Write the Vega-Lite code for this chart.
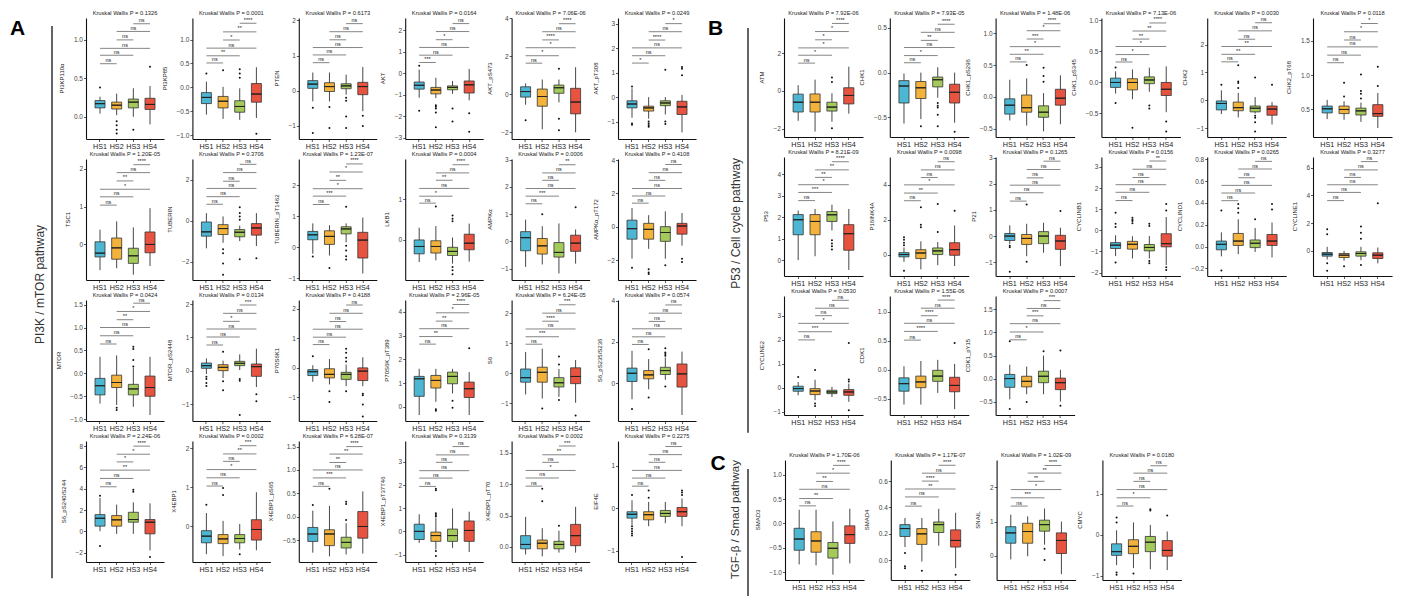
{
"$schema": "https://vega.github.io/schema/vega-lite/v6.json",
"padding": {"left": 5, "top": 10, "right": 5, "bottom": 0},
"background": "white",
"datasets": {
"d": [
{"v":"PI3KP110α","g":"HS1","lo":0.04,"q1":0.115,"md":0.17,"q3":0.21,"hi":0.26,"o":[0.38]},
{"v":"PI3KP110α","g":"HS2","lo":0.02,"q1":0.1,"md":0.15,"q3":0.19,"hi":0.3,"o":[-0.06,-0.11,-0.17,-0.22]},
{"v":"PI3KP110α","g":"HS3","lo":0.0,"q1":0.115,"md":0.19,"q3":0.23,"hi":0.37,"o":[-0.17]},
{"v":"PI3KP110α","g":"HS4","lo":-0.1,"q1":0.095,"md":0.16,"q3":0.24,"hi":0.4,"o":[0.65]},
{"v":"PI3KP85","g":"HS1","lo":-0.57,"q1":-0.34,"md":-0.21,"q3":-0.11,"hi":0.12,"o":[0.29]},
{"v":"PI3KP85","g":"HS2","lo":-0.66,"q1":-0.43,"md":-0.29,"q3":-0.19,"hi":0.01,"o":[0.36]},
{"v":"PI3KP85","g":"HS3","lo":-0.68,"q1":-0.52,"md":-0.4,"q3":-0.28,"hi":-0.02,"o":[0.38,0.29,0.2]},
{"v":"PI3KP85","g":"HS4","lo":-0.64,"q1":-0.31,"md":-0.14,"q3":0.08,"hi":0.42,"o":[-0.97]},
{"v":"PTEN","g":"HS1","lo":-0.3,"q1":0.07,"md":0.19,"q3":0.29,"hi":0.52,"o":[-0.48,-1.2]},
{"v":"PTEN","g":"HS2","lo":-0.3,"q1":-0.02,"md":0.12,"q3":0.23,"hi":0.52,"o":[-0.46,-1.06]},
{"v":"PTEN","g":"HS3","lo":-0.11,"q1":0.06,"md":0.14,"q3":0.2,"hi":0.46,"o":[-0.2,-0.28,-0.73,-1.06]},
{"v":"PTEN","g":"HS4","lo":-0.58,"q1":-0.11,"md":0.12,"q3":0.24,"hi":0.68,"o":[-0.71,-1.0]},
{"v":"AKT","g":"HS1","lo":-1.14,"q1":-0.74,"md":-0.56,"q3":-0.41,"hi":0.17,"o":[0.35,-1.74]},
{"v":"AKT","g":"HS2","lo":-1.16,"q1":-0.96,"md":-0.78,"q3":-0.66,"hi":-0.21,"o":[-1.49,-1.56,-1.64,-1.83,-2.51]},
{"v":"AKT","g":"HS3","lo":-0.96,"q1":-0.77,"md":-0.66,"q3":-0.59,"hi":-0.36,"o":[-1.64,-2.24]},
{"v":"AKT","g":"HS4","lo":-1.26,"q1":-0.92,"md":-0.54,"q3":-0.36,"hi":0.2,"o":[-1.86,-2.72]},
{"v":"AKT_pS473","g":"HS1","lo":-0.55,"q1":-0.15,"md":0.14,"q3":0.39,"hi":0.57,"o":[-1.36]},
{"v":"AKT_pS473","g":"HS2","lo":-1.84,"q1":-0.63,"md":-0.12,"q3":0.27,"hi":0.77},
{"v":"AKT_pS473","g":"HS3","lo":-0.43,"q1":0.05,"md":0.34,"q3":0.48,"hi":0.77,"o":[1.34,-1.29,-1.89]},
{"v":"AKT_pS473","g":"HS4","lo":-2.0,"q1":-1.03,"md":-0.41,"q3":0.31,"hi":1.42},
{"v":"AKT_pT308","g":"HS1","lo":-0.84,"q1":-0.44,"md":-0.28,"q3":-0.15,"hi":0.36,"o":[0.43,-1.08,-1.13]},
{"v":"AKT_pT308","g":"HS2","lo":-0.88,"q1":-0.57,"md":-0.44,"q3":-0.37,"hi":0.0,"o":[-1.0,-1.08,-1.15,-1.21]},
{"v":"AKT_pT308","g":"HS3","lo":-0.71,"q1":-0.35,"md":-0.24,"q3":-0.15,"hi":0.0,"o":[1.12,-1.0,-1.1]},
{"v":"AKT_pT308","g":"HS4","lo":-1.44,"q1":-0.71,"md":-0.4,"q3":-0.17,"hi":0.09,"o":[1.23,1.16,0.89]},
{"v":"TSC1","g":"HS1","lo":-0.68,"q1":-0.33,"md":-0.23,"q3":0.07,"hi":0.39},
{"v":"TSC1","g":"HS2","lo":-0.63,"q1":-0.39,"md":-0.09,"q3":0.17,"hi":0.61},
{"v":"TSC1","g":"HS3","lo":-0.8,"q1":-0.5,"md":-0.3,"q3":-0.1,"hi":0.45},
{"v":"TSC1","g":"HS4","lo":-0.57,"q1":-0.22,"md":0.0,"q3":0.33,"hi":0.96},
{"v":"TUBERIN","g":"HS1","lo":-1.34,"q1":-0.75,"md":-0.54,"q3":-0.06,"hi":0.37},
{"v":"TUBERIN","g":"HS2","lo":-1.07,"q1":-0.67,"md":-0.38,"q3":-0.19,"hi":0.21,"o":[-1.39,-1.58,-2.08,-2.62]},
{"v":"TUBERIN","g":"HS3","lo":-0.99,"q1":-0.78,"md":-0.56,"q3":-0.43,"hi":-0.24,"o":[0.66,0.37,0.21,0.05,-1.87]},
{"v":"TUBERIN","g":"HS4","lo":-1.23,"q1":-0.7,"md":-0.35,"q3":-0.14,"hi":0.37,"o":[-1.82]},
{"v":"TUBERIN_pT1462","g":"HS1","lo":-0.21,"q1":0.24,"md":0.4,"q3":0.51,"hi":0.77,"o":[-0.3]},
{"v":"TUBERIN_pT1462","g":"HS2","lo":-0.27,"q1":0.09,"md":0.35,"q3":0.53,"hi":0.71,"o":[-0.67]},
{"v":"TUBERIN_pT1462","g":"HS3","lo":0.16,"q1":0.43,"md":0.59,"q3":0.66,"hi":0.77,"o":[1.31,0.05,-0.11,-0.29,-0.4]},
{"v":"TUBERIN_pT1462","g":"HS4","lo":-0.85,"q1":-0.35,"md":0.23,"q3":0.48,"hi":0.96},
{"v":"LKB1","g":"HS1","lo":-0.54,"q1":-0.34,"md":-0.16,"q3":0.0,"hi":0.3},
{"v":"LKB1","g":"HS2","lo":-0.5,"q1":-0.32,"md":-0.16,"q3":-0.02,"hi":0.34,"o":[0.82]},
{"v":"LKB1","g":"HS3","lo":-0.58,"q1":-0.38,"md":-0.28,"q3":-0.18,"hi":0.06,"o":[0.6,0.52,0.46,-0.66,-0.74,-0.84]},
{"v":"LKB1","g":"HS4","lo":-0.53,"q1":-0.24,"md":-0.08,"q3":0.14,"hi":0.4},
{"v":"AMPKα","g":"HS1","lo":-0.93,"q1":-0.34,"md":0.14,"q3":0.36,"hi":0.8},
{"v":"AMPKα","g":"HS2","lo":-0.84,"q1":-0.46,"md":-0.16,"q3":0.11,"hi":0.56,"o":[1.0]},
{"v":"AMPKα","g":"HS3","lo":-1.17,"q1":-0.57,"md":-0.4,"q3":-0.04,"hi":0.66},
{"v":"AMPKα","g":"HS4","lo":-0.81,"q1":-0.36,"md":-0.06,"q3":0.23,"hi":0.44,"o":[1.25]},
{"v":"AMPKα_pT172","g":"HS1","lo":-1.92,"q1":-0.75,"md":-0.12,"q3":0.39,"hi":1.12,"o":[-2.47]},
{"v":"AMPKα_pT172","g":"HS2","lo":-1.33,"q1":-0.75,"md":-0.16,"q3":0.2,"hi":0.69,"o":[-2.55,-2.75,-2.84]},
{"v":"AMPKα_pT172","g":"HS3","lo":-1.92,"q1":-0.88,"md":-0.35,"q3":0.0,"hi":0.92,"o":[-2.31]},
{"v":"AMPKα_pT172","g":"HS4","lo":-1.14,"q1":-0.45,"md":0.04,"q3":0.2,"hi":0.82,"o":[-1.92,-2.12]},
{"v":"MTOR","g":"HS1","lo":-0.66,"q1":-0.47,"md":-0.27,"q3":-0.11,"hi":0.36},
{"v":"MTOR","g":"HS2","lo":-0.69,"q1":-0.31,"md":-0.2,"q3":-0.04,"hi":0.39,"o":[-0.75,-0.8]},
{"v":"MTOR","g":"HS3","lo":-0.73,"q1":-0.47,"md":-0.34,"q3":-0.24,"hi":0.12,"o":[0.58,0.53,0.29,0.15]},
{"v":"MTOR","g":"HS4","lo":-0.91,"q1":-0.5,"md":-0.31,"q3":-0.06,"hi":0.36},
{"v":"MTOR_pS2448","g":"HS1","lo":-0.1,"q1":0.07,"md":0.15,"q3":0.23,"hi":0.37,"o":[-0.18,-0.25,-0.37,-0.46]},
{"v":"MTOR_pS2448","g":"HS2","lo":-0.22,"q1":0.0,"md":0.1,"q3":0.18,"hi":0.3,"o":[0.57,-0.32,-0.59]},
{"v":"MTOR_pS2448","g":"HS3","lo":0.02,"q1":0.15,"md":0.22,"q3":0.28,"hi":0.49,"o":[-0.25,-0.3,-1.33]},
{"v":"MTOR_pS2448","g":"HS4","lo":-0.49,"q1":-0.17,"md":0.12,"q3":0.2,"hi":0.66,"o":[-0.71,-0.92]},
{"v":"P70S6K1","g":"HS1","lo":-0.47,"q1":-0.26,"md":-0.13,"q3":-0.06,"hi":0.09,"o":[0.39]},
{"v":"P70S6K1","g":"HS2","lo":-0.56,"q1":-0.34,"md":-0.22,"q3":-0.03,"hi":0.3,"o":[-0.79,-1.16]},
{"v":"P70S6K1","g":"HS3","lo":-0.62,"q1":-0.39,"md":-0.22,"q3":-0.15,"hi":0.11,"o":[0.65,0.51,0.34,0.22,-0.79]},
{"v":"P70S6K1","g":"HS4","lo":-0.62,"q1":-0.43,"md":-0.11,"q3":0.0,"hi":0.36,"o":[-0.88,-0.93,-1.24,-1.65]},
{"v":"P70S6K_pT389","g":"HS1","lo":-0.35,"q1":0.44,"md":1.18,"q3":1.28,"hi":1.6},
{"v":"P70S6K_pT389","g":"HS2","lo":0.21,"q1":0.79,"md":1.11,"q3":1.32,"hi":1.6,"o":[-0.11,-0.17]},
{"v":"P70S6K_pT389","g":"HS3","lo":0.56,"q1":0.97,"md":1.28,"q3":1.46,"hi":1.6,"o":[0.25,-0.04]},
{"v":"P70S6K_pT389","g":"HS4","lo":-0.35,"q1":0.39,"md":0.76,"q3":1.04,"hi":1.46,"o":[2.47]},
{"v":"S6","g":"HS1","lo":-0.71,"q1":-0.3,"md":-0.15,"q3":0.14,"hi":0.71},
{"v":"S6","g":"HS2","lo":-0.85,"q1":-0.3,"md":0.03,"q3":0.2,"hi":0.82,"o":[-1.18]},
{"v":"S6","g":"HS3","lo":-0.79,"q1":-0.46,"md":-0.32,"q3":-0.15,"hi":0.14,"o":[0.56,0.29,-0.9]},
{"v":"S6","g":"HS4","lo":-0.99,"q1":-0.35,"md":-0.11,"q3":0.18,"hi":0.44,"o":[-1.42]},
{"v":"S6_pS235/S236","g":"HS1","lo":-0.78,"q1":0.08,"md":0.48,"q3":0.73,"hi":1.57,"o":[-1.26]},
{"v":"S6_pS235/S236","g":"HS2","lo":-0.3,"q1":0.21,"md":0.4,"q3":0.61,"hi":1.17,"o":[1.65,-0.7]},
{"v":"S6_pS235/S236","g":"HS3","lo":0.16,"q1":0.42,"md":0.61,"q3":0.77,"hi":1.25,"o":[1.69,1.49,1.41,1.33,-0.16]},
{"v":"S6_pS235/S236","g":"HS4","lo":-1.55,"q1":-0.19,"md":0.45,"q3":0.93,"hi":1.53},
{"v":"S6_pS240/S244","g":"HS1","lo":0.03,"q1":0.5,"md":1.24,"q3":1.58,"hi":3.14,"o":[3.35,-1.37]},
{"v":"S6_pS240/S244","g":"HS2","lo":-0.22,"q1":0.5,"md":1.09,"q3":1.49,"hi":2.52},
{"v":"S6_pS240/S244","g":"HS3","lo":-0.22,"q1":0.87,"md":1.12,"q3":1.8,"hi":2.73,"o":[3.91,3.73]},
{"v":"S6_pS240/S244","g":"HS4","lo":-1.77,"q1":-0.22,"md":0.87,"q3":1.12,"hi":2.64,"o":[-2.39]},
{"v":"X4EBP1","g":"HS1","lo":-0.71,"q1":-0.42,"md":-0.25,"q3":-0.11,"hi":0.34,"o":[0.55]},
{"v":"X4EBP1","g":"HS2","lo":-0.76,"q1":-0.44,"md":-0.32,"q3":-0.21,"hi":0.14,"o":[0.98,0.8]},
{"v":"X4EBP1","g":"HS3","lo":-0.59,"q1":-0.42,"md":-0.31,"q3":-0.21,"hi":0.06,"o":[-0.71]},
{"v":"X4EBP1","g":"HS4","lo":-0.61,"q1":-0.35,"md":-0.08,"q3":0.17,"hi":0.87},
{"v":"X4EBP1_pS65","g":"HS1","lo":-0.77,"q1":-0.53,"md":-0.37,"q3":-0.23,"hi":0.13,"o":[0.25]},
{"v":"X4EBP1_pS65","g":"HS2","lo":-0.85,"q1":-0.62,"md":-0.37,"q3":-0.28,"hi":0.23,"o":[0.6]},
{"v":"X4EBP1_pS65","g":"HS3","lo":-0.81,"q1":-0.67,"md":-0.55,"q3":-0.44,"hi":-0.14,"o":[0.32,0.27,-0.07]},
{"v":"X4EBP1_pS65","g":"HS4","lo":-0.79,"q1":-0.46,"md":-0.21,"q3":0.11,"hi":0.54},
{"v":"X4EBP1_pT37T46","g":"HS1","lo":-0.5,"q1":-0.35,"md":0.0,"q3":0.31,"hi":0.74},
{"v":"X4EBP1_pT37T46","g":"HS2","lo":-0.78,"q1":-0.43,"md":-0.18,"q3":-0.03,"hi":0.57,"o":[1.84,1.77,0.78,0.71,0.64,-0.85,-1.06]},
{"v":"X4EBP1_pT37T46","g":"HS3","lo":-0.71,"q1":-0.43,"md":-0.18,"q3":0.1,"hi":0.99},
{"v":"X4EBP1_pT37T46","g":"HS4","lo":-0.89,"q1":-0.43,"md":0.04,"q3":0.45,"hi":0.85},
{"v":"X4EBP1_pT70","g":"HS1","lo":-0.12,"q1":-0.03,"md":0.04,"q3":0.18,"hi":0.48},
{"v":"X4EBP1_pT70","g":"HS2","lo":-0.15,"q1":-0.03,"md":0.06,"q3":0.11,"hi":0.3,"o":[0.93,0.73]},
{"v":"X4EBP1_pT70","g":"HS3","lo":-0.09,"q1":-0.03,"md":0.04,"q3":0.09,"hi":0.26,"o":[0.34]},
{"v":"X4EBP1_pT70","g":"HS4","lo":-0.09,"q1":0.02,"md":0.18,"q3":0.36,"hi":0.64},
{"v":"EIF4E","g":"HS1","lo":-0.39,"q1":-0.23,"md":-0.14,"q3":-0.08,"hi":0.19,"o":[0.31,-0.42,-0.48,-0.54,-0.59,-0.64]},
{"v":"EIF4E","g":"HS2","lo":-0.42,"q1":-0.27,"md":-0.15,"q3":-0.08,"hi":0.15,"o":[0.42,0.25]},
{"v":"EIF4E","g":"HS3","lo":-0.35,"q1":-0.19,"md":-0.12,"q3":-0.05,"hi":0.15},
{"v":"EIF4E","g":"HS4","lo":-0.42,"q1":-0.19,"md":-0.08,"q3":0.02,"hi":0.23,"o":[0.42,0.37,0.31,-1.14]},
{"v":"ATM","g":"HS1","lo":-1.59,"q1":-1.12,"md":-0.6,"q3":-0.17,"hi":0.31},
{"v":"ATM","g":"HS2","lo":-2.16,"q1":-1.12,"md":-0.6,"q3":-0.16,"hi":0.6},
{"v":"ATM","g":"HS3","lo":-1.64,"q1":-1.07,"md":-0.86,"q3":-0.6,"hi":-0.12,"o":[0.71,0.48,-1.98]},
{"v":"ATM","g":"HS4","lo":-1.21,"q1":-0.69,"md":-0.24,"q3":0.17,"hi":1.29},
{"v":"CHK1","g":"HS1","lo":-0.57,"q1":-0.34,"md":-0.15,"q3":-0.09,"hi":-0.01},
{"v":"CHK1","g":"HS2","lo":-0.52,"q1":-0.29,"md":-0.17,"q3":-0.1,"hi":0.0,"o":[-0.6]},
{"v":"CHK1","g":"HS3","lo":-0.28,"q1":-0.16,"md":-0.08,"q3":-0.05,"hi":0.06,"o":[-0.34,-0.37,-0.39,-0.47,-0.6]},
{"v":"CHK1","g":"HS4","lo":-0.56,"q1":-0.34,"md":-0.22,"q3":-0.13,"hi":0.0,"o":[-0.66]},
{"v":"CHK1_pS296","g":"HS1","lo":-0.37,"q1":-0.27,"md":-0.13,"q3":-0.03,"hi":0.27},
{"v":"CHK1_pS296","g":"HS2","lo":-0.45,"q1":-0.24,"md":-0.17,"q3":0.03,"hi":0.29,"o":[0.5]},
{"v":"CHK1_pS296","g":"HS3","lo":-0.54,"q1":-0.32,"md":-0.24,"q3":-0.14,"hi":0.06,"o":[0.46,0.33,0.24]},
{"v":"CHK1_pS296","g":"HS4","lo":-0.43,"q1":-0.13,"md":-0.02,"q3":0.12,"hi":0.34},
{"v":"CHK1_pS345","g":"HS1","lo":-0.18,"q1":-0.08,"md":0.0,"q3":0.07,"hi":0.18,"o":[0.24,-0.33]},
{"v":"CHK1_pS345","g":"HS2","lo":-0.27,"q1":-0.12,"md":0.0,"q3":0.06,"hi":0.21,"o":[-0.73]},
{"v":"CHK1_pS345","g":"HS3","lo":-0.15,"q1":-0.02,"md":0.04,"q3":0.09,"hi":0.24,"o":[-0.37,-0.42]},
{"v":"CHK1_pS345","g":"HS4","lo":-0.48,"q1":-0.21,"md":-0.11,"q3":0.0,"hi":0.26,"o":[-0.63,-0.79]},
{"v":"CHK2","g":"HS1","lo":-0.49,"q1":-0.34,"md":-0.11,"q3":-0.02,"hi":0.36,"o":[0.56]},
{"v":"CHK2","g":"HS2","lo":-0.61,"q1":-0.37,"md":-0.26,"q3":-0.06,"hi":0.27,"o":[1.26,0.68,0.62,0.44]},
{"v":"CHK2","g":"HS3","lo":-0.47,"q1":-0.41,"md":-0.28,"q3":-0.2,"hi":0.12,"o":[0.82,-0.55,-0.62,-0.78,-1.11]},
{"v":"CHK2","g":"HS4","lo":-0.86,"q1":-0.53,"md":-0.31,"q3":-0.2,"hi":-0.06,"o":[0.56]},
{"v":"CHK2_pT68","g":"HS1","lo":0.36,"q1":0.45,"md":0.51,"q3":0.55,"hi":0.64},
{"v":"CHK2_pT68","g":"HS2","lo":0.35,"q1":0.44,"md":0.5,"q3":0.55,"hi":0.62,"o":[0.89,0.69]},
{"v":"CHK2_pT68","g":"HS3","lo":0.32,"q1":0.42,"md":0.48,"q3":0.52,"hi":0.6,"o":[1.01,0.77,0.73,0.66]},
{"v":"CHK2_pT68","g":"HS4","lo":0.23,"q1":0.4,"md":0.44,"q3":0.57,"hi":0.74,"o":[1.12,0.84]},
{"v":"P53","g":"HS1","lo":0.0,"q1":1.18,"md":1.88,"q3":2.12,"hi":2.31},
{"v":"P53","g":"HS2","lo":0.18,"q1":1.18,"md":1.8,"q3":2.12,"hi":2.38},
{"v":"P53","g":"HS3","lo":1.38,"q1":1.8,"md":2.11,"q3":2.26,"hi":2.58,"o":[0.92,0.77,0.65,0.49]},
{"v":"P53","g":"HS4","lo":-0.46,"q1":0.46,"md":1.23,"q3":1.65,"hi":2.38},
{"v":"P16INK4A","g":"HS1","lo":-0.42,"q1":-0.13,"md":0.0,"q3":0.11,"hi":0.4,"o":[1.0,0.85,0.68,0.53,-0.93]},
{"v":"P16INK4A","g":"HS2","lo":-0.85,"q1":-0.23,"md":0.09,"q3":0.28,"hi":0.76,"o":[2.71,1.71,1.57]},
{"v":"P16INK4A","g":"HS3","lo":-0.61,"q1":0.0,"md":0.21,"q3":0.38,"hi":0.72,"o":[2.9,1.29]},
{"v":"P16INK4A","g":"HS4","lo":-0.66,"q1":-0.04,"md":0.28,"q3":0.68,"hi":1.67,"o":[2.52]},
{"v":"P21","g":"HS1","lo":-0.3,"q1":-0.17,"md":0.0,"q3":0.1,"hi":0.41,"o":[-0.37,-0.43,-1.37]},
{"v":"P21","g":"HS2","lo":-0.77,"q1":-0.32,"md":-0.09,"q3":0.06,"hi":0.47,"o":[1.21,-0.98]},
{"v":"P21","g":"HS3","lo":-0.64,"q1":-0.29,"md":0.0,"q3":0.17,"hi":0.51},
{"v":"P21","g":"HS4","lo":-1.15,"q1":-0.51,"md":-0.19,"q3":0.03,"hi":0.32,"o":[0.96]},
{"v":"CYCLINB1","g":"HS1","lo":-1.22,"q1":-0.86,"md":-0.7,"q3":-0.58,"hi":-0.23,"o":[0.83,0.31,0.16,-1.52]},
{"v":"CYCLINB1","g":"HS2","lo":-1.33,"q1":-0.89,"md":-0.66,"q3":-0.52,"hi":-0.28,"o":[0.59,0.5,0.44,0.34]},
{"v":"CYCLINB1","g":"HS3","lo":-1.33,"q1":-0.97,"md":-0.81,"q3":-0.67,"hi":-0.27,"o":[0.31,0.2,-1.45,-1.56]},
{"v":"CYCLINB1","g":"HS4","lo":-1.64,"q1":-0.78,"md":-0.63,"q3":-0.16,"hi":0.63,"o":[1.25,0.94,-1.75,-1.88]},
{"v":"CYCLIND1","g":"HS1","lo":-0.09,"q1":-0.03,"md":0.02,"q3":0.05,"hi":0.13,"o":[0.33,-0.22]},
{"v":"CYCLIND1","g":"HS2","lo":-0.07,"q1":0.01,"md":0.05,"q3":0.12,"hi":0.25,"o":[0.39,0.35,0.31]},
{"v":"CYCLIND1","g":"HS3","lo":-0.05,"q1":-0.01,"md":0.03,"q3":0.06,"hi":0.17,"o":[0.25]},
{"v":"CYCLIND1","g":"HS4","lo":-0.1,"q1":0.01,"md":0.05,"q3":0.11,"hi":0.22,"o":[0.39,0.34]},
{"v":"CYCLINE1","g":"HS1","lo":-0.62,"q1":-0.38,"md":-0.24,"q3":-0.12,"hi":0.29,"o":[1.55,1.19,-0.9,-1.43]},
{"v":"CYCLINE1","g":"HS2","lo":-0.71,"q1":-0.48,"md":-0.31,"q3":-0.19,"hi":0.0,"o":[-1.1]},
{"v":"CYCLINE1","g":"HS3","lo":-0.67,"q1":-0.38,"md":-0.19,"q3":-0.07,"hi":0.29,"o":[1.76,1.31,0.88,-1.02]},
{"v":"CYCLINE1","g":"HS4","lo":-0.9,"q1":-0.55,"md":-0.31,"q3":-0.14,"hi":0.24,"o":[3.43]},
{"v":"CYCLINE2","g":"HS1","lo":-0.32,"q1":-0.15,"md":-0.04,"q3":0.06,"hi":0.23,"o":[0.44]},
{"v":"CYCLINE2","g":"HS2","lo":-0.52,"q1":-0.29,"md":-0.14,"q3":-0.04,"hi":0.33,"o":[0.74,-0.66,-0.77]},
{"v":"CYCLINE2","g":"HS3","lo":-0.39,"q1":-0.25,"md":-0.18,"q3":-0.11,"hi":0.03},
{"v":"CYCLINE2","g":"HS4","lo":-0.59,"q1":-0.32,"md":-0.18,"q3":-0.08,"hi":0.17,"o":[1.86,0.34,0.26,-0.94]},
{"v":"CDK1","g":"HS1","lo":-0.6,"q1":-0.37,"md":-0.24,"q3":-0.14,"hi":0.06},
{"v":"CDK1","g":"HS2","lo":-0.6,"q1":-0.31,"md":-0.21,"q3":-0.11,"hi":0.15},
{"v":"CDK1","g":"HS3","lo":-0.4,"q1":-0.2,"md":-0.11,"q3":-0.01,"hi":0.17},
{"v":"CDK1","g":"HS4","lo":-0.68,"q1":-0.38,"md":-0.27,"q3":-0.13,"hi":0.1,"o":[0.46]},
{"v":"CDK1_pY15","g":"HS1","lo":-0.45,"q1":-0.19,"md":0.0,"q3":0.09,"hi":0.3,"o":[0.81,-0.66]},
{"v":"CDK1_pY15","g":"HS2","lo":-0.34,"q1":-0.18,"md":-0.06,"q3":0.05,"hi":0.26,"o":[-0.51]},
{"v":"CDK1_pY15","g":"HS3","lo":-0.34,"q1":-0.09,"md":0.05,"q3":0.16,"hi":0.5,"o":[0.59]},
{"v":"CDK1_pY15","g":"HS4","lo":-0.5,"q1":-0.24,"md":-0.09,"q3":0.01,"hi":0.19,"o":[0.61,-0.59]},
{"v":"SMAD3","g":"HS1","lo":-0.84,"q1":-0.55,"md":-0.32,"q3":-0.1,"hi":0.28},
{"v":"SMAD3","g":"HS2","lo":-0.86,"q1":-0.59,"md":-0.36,"q3":-0.17,"hi":0.28},
{"v":"SMAD3","g":"HS3","lo":-1.05,"q1":-0.71,"md":-0.51,"q3":-0.39,"hi":0.04},
{"v":"SMAD3","g":"HS4","lo":-0.82,"q1":-0.41,"md":-0.23,"q3":-0.05,"hi":0.3},
{"v":"SMAD4","g":"HS1","lo":0.1,"q1":0.18,"md":0.24,"q3":0.27,"hi":0.32,"o":[0.055,-0.045,-0.06]},
{"v":"SMAD4","g":"HS2","lo":-0.01,"q1":0.12,"md":0.2,"q3":0.24,"hi":0.32,"o":[-0.08]},
{"v":"SMAD4","g":"HS3","lo":0.11,"q1":0.21,"md":0.27,"q3":0.29,"hi":0.39},
{"v":"SMAD4","g":"HS4","lo":-0.06,"q1":0.1,"md":0.15,"q3":0.23,"hi":0.36,"o":[-0.11]},
{"v":"SNAIL","g":"HS1","lo":-0.1,"q1":0.37,"md":0.67,"q3":0.85,"hi":1.2},
{"v":"SNAIL","g":"HS2","lo":-0.01,"q1":0.37,"md":0.71,"q3":0.95,"hi":1.15},
{"v":"SNAIL","g":"HS3","lo":0.33,"q1":0.72,"md":0.91,"q3":1.04,"hi":1.38,"o":[0.21,-0.12]},
{"v":"SNAIL","g":"HS4","lo":-0.53,"q1":0.07,"md":0.45,"q3":0.67,"hi":1.0},
{"v":"CMYC","g":"HS1","lo":-0.74,"q1":-0.5,"md":-0.41,"q3":-0.22,"hi":0.11,"o":[0.42,0.3,-0.92,-0.97]},
{"v":"CMYC","g":"HS2","lo":-0.81,"q1":-0.46,"md":-0.28,"q3":-0.12,"hi":0.3,"o":[-0.94]},
{"v":"CMYC","g":"HS3","lo":-0.84,"q1":-0.41,"md":-0.18,"q3":-0.04,"hi":0.24,"o":[0.62,0.59]},
{"v":"CMYC","g":"HS4","lo":-0.86,"q1":-0.52,"md":-0.38,"q3":-0.14,"hi":0.08,"o":[0.47]},
{"v":"PI3KP110α","kw":"Kruskal Wallis P = 0.1326","y0":-0.29,"y1":1.285,"by":[0.69,0.8,0.89,1.0,1.11,1.21],"bl":["ns","ns","ns","ns","ns","ns"],"ba":["HS1","HS1","HS1","HS2","HS2","HS3"],"bb":["HS2","HS3","HS4","HS3","HS4","HS4"]},
{"v":"PI3KP85","kw":"Kruskal Wallis P = 0.0001","y0":-1.08,"y1":1.45,"by":[0.51,0.66,0.82,0.99,1.16,1.34],"bl":["ns","**","ns","*","**","****"],"ba":["HS1","HS1","HS1","HS2","HS2","HS3"],"bb":["HS2","HS3","HS4","HS3","HS4","HS4"]},
{"v":"PTEN","kw":"Kruskal Wallis P = 0.6173","y0":-1.37,"y1":2.07,"by":[0.8,1.02,1.23,1.45,1.68,1.91],"bl":["ns","ns","ns","ns","ns","ns"],"ba":["HS1","HS1","HS1","HS2","HS2","HS3"],"bb":["HS2","HS3","HS4","HS3","HS4","HS4"]},
{"v":"AKT","kw":"Kruskal Wallis P = 0.0164","y0":-3.06,"y1":2.57,"by":[0.5,0.84,1.2,1.56,1.94,2.31],"bl":["***","ns","ns","*","ns","ns"],"ba":["HS1","HS1","HS1","HS2","HS2","HS3"],"bb":["HS2","HS3","HS4","HS3","HS4","HS4"]},
{"v":"AKT_pS473","kw":"Kruskal Wallis P = 7.06E-06","y0":-2.35,"y1":4.0,"by":[1.63,2.02,2.44,2.85,3.28,3.7],"bl":["ns","*","*","****","ns","****"],"ba":["HS1","HS1","HS1","HS2","HS2","HS3"],"bb":["HS2","HS3","HS4","HS3","HS4","HS4"]},
{"v":"AKT_pT308","kw":"Kruskal Wallis P = 0.0249","y0":-1.71,"y1":3.23,"by":[1.39,1.69,2.01,2.33,2.67,3.0],"bl":["*","ns","ns","****","ns","*"],"ba":["HS1","HS1","HS1","HS2","HS2","HS3"],"bb":["HS2","HS3","HS4","HS3","HS4","HS4"]},
{"v":"TSC1","kw":"Kruskal Wallis P = 1.20E-05","y0":-0.94,"y1":2.26,"by":[1.04,1.26,1.46,1.68,1.9,2.11],"bl":["ns","ns","*","**","ns","****"],"ba":["HS1","HS1","HS1","HS2","HS2","HS3"],"bb":["HS2","HS3","HS4","HS3","HS4","HS4"]},
{"v":"TUBERIN","kw":"Kruskal Wallis P = 0.3706","y0":-2.88,"y1":3.0,"by":[0.8,1.17,1.57,1.92,2.34,2.74],"bl":["ns","ns","ns","ns","ns","ns"],"ba":["HS1","HS1","HS1","HS2","HS2","HS3"],"bb":["HS2","HS3","HS4","HS3","HS4","HS4"]},
{"v":"TUBERIN_pT1462","kw":"Kruskal Wallis P = 1.23E-07","y0":-1.06,"y1":2.85,"by":[1.38,1.65,1.89,2.16,2.43,2.69],"bl":["ns","***","*","**","*","****"],"ba":["HS1","HS1","HS1","HS2","HS2","HS3"],"bb":["HS2","HS3","HS4","HS3","HS4","HS4"]},
{"v":"LKB1","kw":"Kruskal Wallis P = 0.0004","y0":-0.98,"y1":1.98,"by":[0.9,1.07,1.26,1.46,1.64,1.84],"bl":["ns","*","ns","**","ns","****"],"ba":["HS1","HS1","HS1","HS2","HS2","HS3"],"bb":["HS2","HS3","HS4","HS3","HS4","HS4"]},
{"v":"AMPKα","kw":"Kruskal Wallis P = 0.0006","y0":-1.41,"y1":3.02,"by":[1.38,1.66,1.94,2.24,2.51,2.81],"bl":["ns","***","ns","ns","ns","**"],"ba":["HS1","HS1","HS1","HS2","HS2","HS3"],"bb":["HS2","HS3","HS4","HS3","HS4","HS4"]},
{"v":"AMPKα_pT172","kw":"Kruskal Wallis P = 0.4108","y0":-3.2,"y1":4.06,"by":[1.41,1.84,2.29,2.78,3.24,3.73],"bl":["ns","ns","ns","ns","ns","ns"],"ba":["HS1","HS1","HS1","HS2","HS2","HS3"],"bb":["HS2","HS3","HS4","HS3","HS4","HS4"]},
{"v":"MTOR","kw":"Kruskal Wallis P = 0.0424","y0":-1.04,"y1":1.6,"by":[0.64,0.82,1.0,1.17,1.35,1.53],"bl":["ns","ns","ns","**","*","ns"],"ba":["HS1","HS1","HS1","HS2","HS2","HS3"],"bb":["HS2","HS3","HS4","HS3","HS4","HS4"]},
{"v":"MTOR_pS2448","kw":"Kruskal Wallis P = 0.0134","y0":-1.51,"y1":2.12,"by":[0.77,1.01,1.25,1.48,1.72,1.97],"bl":["ns","ns","ns","*","ns","***"],"ba":["HS1","HS1","HS1","HS2","HS2","HS3"],"bb":["HS2","HS3","HS4","HS3","HS4","HS4"]},
{"v":"P70S6K1","kw":"Kruskal Wallis P = 0.4188","y0":-1.8,"y1":2.3,"by":[0.79,1.04,1.31,1.57,1.85,2.13],"bl":["ns","ns","ns","ns","ns","ns"],"ba":["HS1","HS1","HS1","HS2","HS2","HS3"],"bb":["HS2","HS3","HS4","HS3","HS4","HS4"]},
{"v":"P70S6K_pT389","kw":"Kruskal Wallis P = 2.96E-05","y0":-0.6,"y1":4.5,"by":[2.64,2.96,3.29,3.61,3.96,4.31],"bl":["ns","**","ns","**","*","****"],"ba":["HS1","HS1","HS1","HS2","HS2","HS3"],"bb":["HS2","HS3","HS4","HS3","HS4","HS4"]},
{"v":"S6","kw":"Kruskal Wallis P = 6.24E-05","y0":-1.6,"y1":2.45,"by":[0.97,1.22,1.48,1.74,2.01,2.29],"bl":["ns","***","ns","****","ns","***"],"ba":["HS1","HS1","HS1","HS2","HS2","HS3"],"bb":["HS2","HS3","HS4","HS3","HS4","HS4"]},
{"v":"S6_pS235/S236","kw":"Kruskal Wallis P = 0.0574","y0":-1.84,"y1":4.04,"by":[1.88,2.25,2.64,3.0,3.4,3.8],"bl":["ns","ns","ns","ns","ns","ns"],"ba":["HS1","HS1","HS1","HS2","HS2","HS3"],"bb":["HS2","HS3","HS4","HS3","HS4","HS4"]},
{"v":"S6_pS240/S244","kw":"Kruskal Wallis P = 2.24E-06","y0":-2.86,"y1":8.48,"by":[4.19,4.97,5.75,6.52,7.24,8.0],"bl":["ns","ns","**","*","*","****"],"ba":["HS1","HS1","HS1","HS2","HS2","HS3"],"bb":["HS2","HS3","HS4","HS3","HS4","HS4"]},
{"v":"X4EBP1","kw":"Kruskal Wallis P = 0.0002","y0":-0.91,"y1":2.18,"by":[1.03,1.24,1.45,1.66,1.85,2.06],"bl":["ns","ns","*","ns","**","***"],"ba":["HS1","HS1","HS1","HS2","HS2","HS3"],"bb":["HS2","HS3","HS4","HS3","HS4","HS4"]},
{"v":"X4EBP1_pS65","kw":"Kruskal Wallis P = 6.28E-07","y0":-0.97,"y1":1.62,"by":[0.65,0.83,1.0,1.16,1.34,1.5],"bl":["ns","***","ns","**","**","****"],"ba":["HS1","HS1","HS1","HS2","HS2","HS3"],"bb":["HS2","HS3","HS4","HS3","HS4","HS4"]},
{"v":"X4EBP1_pT37T46","kw":"Kruskal Wallis P = 0.3139","y0":-1.32,"y1":3.9,"by":[1.94,2.3,2.62,2.98,3.3,3.66],"bl":["ns","ns","ns","ns","ns","ns"],"ba":["HS1","HS1","HS1","HS2","HS2","HS3"],"bb":["HS2","HS3","HS4","HS3","HS4","HS4"]},
{"v":"X4EBP1_pT70","kw":"Kruskal Wallis P = 0.0002","y0":-0.24,"y1":1.69,"by":[0.97,1.1,1.22,1.35,1.47,1.61],"bl":["ns","ns","*","ns","**","***"],"ba":["HS1","HS1","HS1","HS2","HS2","HS3"],"bb":["HS2","HS3","HS4","HS3","HS4","HS4"]},
{"v":"EIF4E","kw":"Kruskal Wallis P = 0.2275","y0":-1.26,"y1":1.58,"by":[0.52,0.71,0.89,1.08,1.26,1.45],"bl":["ns","ns","ns","ns","ns","ns"],"ba":["HS1","HS1","HS1","HS2","HS2","HS3"],"bb":["HS2","HS3","HS4","HS3","HS4","HS4"]},
{"v":"ATM","kw":"Kruskal Wallis P = 7.92E-06","y0":-2.45,"y1":3.88,"by":[1.48,1.9,2.29,2.72,3.16,3.59],"bl":["ns","*","*","*","*","****"],"ba":["HS1","HS1","HS1","HS2","HS2","HS3"],"bb":["HS2","HS3","HS4","HS3","HS4","HS4"]},
{"v":"CHK1","kw":"Kruskal Wallis P = 7.93E-05","y0":-0.72,"y1":0.61,"by":[0.11,0.19,0.28,0.36,0.45,0.54],"bl":["ns","*","ns","**","ns","****"],"ba":["HS1","HS1","HS1","HS2","HS2","HS3"],"bb":["HS2","HS3","HS4","HS3","HS4","HS4"]},
{"v":"CHK1_pS296","kw":"Kruskal Wallis P = 1.48E-06","y0":-0.63,"y1":1.24,"by":[0.55,0.67,0.79,0.91,1.04,1.15],"bl":["ns","**","*","***","*","****"],"ba":["HS1","HS1","HS1","HS2","HS2","HS3"],"bb":["HS2","HS3","HS4","HS3","HS4","HS4"]},
{"v":"CHK1_pS345","kw":"Kruskal Wallis P = 7.13E-06","y0":-0.88,"y1":1.04,"by":[0.33,0.45,0.58,0.7,0.83,0.96],"bl":["ns","*","*","**","**","****"],"ba":["HS1","HS1","HS1","HS2","HS2","HS3"],"bb":["HS2","HS3","HS4","HS3","HS4","HS4"]},
{"v":"CHK2","kw":"Kruskal Wallis P = 0.0030","y0":-1.31,"y1":2.95,"by":[1.38,1.65,1.93,2.19,2.49,2.78],"bl":["ns","**","**","ns","ns","ns"],"ba":["HS1","HS1","HS1","HS2","HS2","HS3"],"bb":["HS2","HS3","HS4","HS3","HS4","HS4"]},
{"v":"CHK2_pT68","kw":"Kruskal Wallis P = 0.0118","y0":0.1,"y1":1.83,"by":[1.18,1.29,1.41,1.51,1.63,1.75],"bl":["ns","ns","ns","ns","*","*"],"ba":["HS1","HS1","HS1","HS2","HS2","HS3"],"bb":["HS2","HS3","HS4","HS3","HS4","HS4"]},
{"v":"P53","kw":"Kruskal Wallis P = 8.21E-09","y0":-0.74,"y1":4.8,"by":[2.77,3.15,3.51,3.85,4.2,4.58],"bl":["ns","***","*","**","**","****"],"ba":["HS1","HS1","HS1","HS2","HS2","HS3"],"bb":["HS2","HS3","HS4","HS3","HS4","HS4"]},
{"v":"P16INK4A","kw":"Kruskal Wallis P = 0.0098","y0":-1.23,"y1":5.6,"by":[3.09,3.53,4.0,4.42,4.86,5.33],"bl":["ns","**","*","ns","ns","ns"],"ba":["HS1","HS1","HS1","HS2","HS2","HS3"],"bb":["HS2","HS3","HS4","HS3","HS4","HS4"]},
{"v":"P21","kw":"Kruskal Wallis P = 0.1265","y0":-1.53,"y1":3.03,"by":[1.34,1.66,1.95,2.23,2.55,2.87],"bl":["ns","ns","ns","ns","ns","ns"],"ba":["HS1","HS1","HS1","HS2","HS2","HS3"],"bb":["HS2","HS3","HS4","HS3","HS4","HS4"]},
{"v":"CYCLINB1","kw":"Kruskal Wallis P = 0.0156","y0":-2.16,"y1":3.47,"by":[1.41,1.8,2.16,2.5,2.89,3.28],"bl":["ns","ns","ns","ns","ns","**"],"ba":["HS1","HS1","HS1","HS2","HS2","HS3"],"bb":["HS2","HS3","HS4","HS3","HS4","HS4"]},
{"v":"CYCLIND1","kw":"Kruskal Wallis P = 0.0265","y0":-0.27,"y1":0.82,"by":[0.42,0.49,0.56,0.63,0.71,0.78],"bl":["ns","ns","ns","ns","ns","ns"],"ba":["HS1","HS1","HS1","HS2","HS2","HS3"],"bb":["HS2","HS3","HS4","HS3","HS4","HS4"]},
{"v":"CYCLINE1","kw":"Kruskal Wallis P = 0.3277","y0":-1.81,"y1":6.76,"by":[3.62,4.21,4.76,5.29,5.83,6.43],"bl":["ns","ns","ns","ns","ns","ns"],"ba":["HS1","HS1","HS1","HS2","HS2","HS3"],"bb":["HS2","HS3","HS4","HS3","HS4","HS4"]},
{"v":"CYCLINE2","kw":"Kruskal Wallis P = 0.0530","y0":-1.14,"y1":3.82,"by":[1.99,2.33,2.68,3.0,3.31,3.64],"bl":["ns","***","*","ns","ns","ns"],"ba":["HS1","HS1","HS1","HS2","HS2","HS3"],"bb":["HS2","HS3","HS4","HS3","HS4","HS4"]},
{"v":"CDK1","kw":"Kruskal Wallis P = 1.55E-06","y0":-0.78,"y1":1.27,"by":[0.51,0.66,0.8,0.93,1.06,1.2],"bl":["ns","****","ns","****","ns","****"],"ba":["HS1","HS1","HS1","HS2","HS2","HS3"],"bb":["HS2","HS3","HS4","HS3","HS4","HS4"]},
{"v":"CDK1_pY15","kw":"Kruskal Wallis P = 0.0007","y0":-0.79,"y1":1.79,"by":[0.84,1.01,1.19,1.36,1.52,1.69],"bl":["ns","*","ns","***","ns","***"],"ba":["HS1","HS1","HS1","HS2","HS2","HS3"],"bb":["HS2","HS3","HS4","HS3","HS4","HS4"]},
{"v":"SMAD3","kw":"Kruskal Wallis P = 1.70E-06","y0":-1.16,"y1":1.3,"by":[0.36,0.51,0.7,0.86,1.03,1.19],"bl":["ns","**","ns","**","*","****"],"ba":["HS1","HS1","HS1","HS2","HS2","HS3"],"bb":["HS2","HS3","HS4","HS3","HS4","HS4"]},
{"v":"SMAD4","kw":"Kruskal Wallis P = 1.17E-07","y0":-0.15,"y1":0.76,"by":[0.41,0.48,0.54,0.6,0.66,0.72],"bl":["ns","ns","**","****","ns","****"],"ba":["HS1","HS1","HS1","HS2","HS2","HS3"],"bb":["HS2","HS3","HS4","HS3","HS4","HS4"]},
{"v":"SNAIL","kw":"Kruskal Wallis P = 1.02E-09","y0":-0.7,"y1":2.79,"by":[1.45,1.69,1.93,2.17,2.41,2.63],"bl":["ns","***","*","**","**","****"],"ba":["HS1","HS1","HS1","HS2","HS2","HS3"],"bb":["HS2","HS3","HS4","HS3","HS4","HS4"]},
{"v":"CMYC","kw":"Kruskal Wallis P = 0.0180","y0":-1.1,"y1":1.82,"by":[0.7,0.9,1.1,1.3,1.5,1.68],"bl":["ns","*","ns","ns","ns","ns"],"ba":["HS1","HS1","HS1","HS2","HS2","HS3"],"bb":["HS2","HS3","HS4","HS3","HS4","HS4"]}
]
},
"data": {"name": "d"},
"spacing": 8,
"hconcat": [
{"spacing": 2, "hconcat": [
 {"width": 47, "height": 567, "data": {"values": [{"s": "A", "t": "PI3K / mTOR pathway"}]},
  "layer": [
   {"mark": {"type": "rule", "color": "#222", "strokeWidth": 1.4}, "encoding": {"x": {"datum": 1, "type": "quantitative", "scale": {"domain": [0, 1]}, "axis": null}, "y": {"datum": 0.012, "type": "quantitative", "scale": {"domain": [0, 1]}, "axis": null}, "y2": {"datum": 0.986}}},
   {"mark": {"type": "text", "angle": 270, "fontSize": 12, "color": "#333"}, "encoding": {"x": {"datum": 0.745, "type": "quantitative"}, "y": {"datum": 0.53, "type": "quantitative"}, "text": {"field": "t"}}},
   {"mark": {"type": "text", "fontSize": 21, "fontWeight": "bold", "align": "left", "baseline": "top", "color": "#000"}, "encoding": {"x": {"datum": 0.106, "type": "quantitative"}, "y": {"datum": 1, "type": "quantitative"}, "text": {"field": "s"}}}
  ]},
 {"transform": [{"filter": {"field": "v", "oneOf": ["PI3KP110α","PI3KP85","PTEN","AKT","AKT_pS473","AKT_pT308","TSC1","TUBERIN","TUBERIN_pT1462","LKB1","AMPKα","AMPKα_pT172","MTOR","MTOR_pS2448","P70S6K1","P70S6K_pT389","S6","S6_pS235/S236","S6_pS240/S244","X4EBP1","X4EBP1_pS65","X4EBP1_pT37T46","X4EBP1_pT70","EIF4E"]}}],
  "facet": {"field": "v", "type": "nominal", "sort": ["PI3KP110α","PI3KP85","PTEN","AKT","AKT_pS473","AKT_pT308","TSC1","TUBERIN","TUBERIN_pT1462","LKB1","AMPKα","AMPKα_pT172","MTOR","MTOR_pS2448","P70S6K1","P70S6K_pT389","S6","S6_pS235/S236","S6_pS240/S244","X4EBP1","X4EBP1_pS65","X4EBP1_pT37T46","X4EBP1_pT70","EIF4E"],
   "header": {"title": null, "labelOrient": "left", "labelAngle": 270, "labelFontSize": 6, "labelPadding": 2, "labelColor": "#222", "labelAnchor": "middle"}},
  "columns": 6, "bounds": "flush", "spacing": {"row": 20, "column": 28.4},
  "resolve": {"scale": {"y": "independent"}, "axis": {"x": "independent"}},
  "spec": {"width": 78, "height": 121, "layer": [
   {"transform": [{"filter": "isValid(datum.y0)"}], "mark": {"type": "rule", "opacity": 0}, "encoding": {"y": {"field": "y0", "type": "quantitative", "scale": {"nice": false, "zero": false}, "axis": {"title": null, "tickCount": 4}}, "y2": {"field": "y1"}}},
   {"transform": [{"filter": "isValid(datum.q1)"}], "mark": {"type": "rule", "color": "#333", "strokeWidth": 0.9}, "encoding": {"x": {"field": "g", "type": "nominal", "scale": {"domain": ["HS1","HS2","HS3","HS4"], "paddingInner": 0, "paddingOuter": 0.34}, "axis": {"title": null}}, "y": {"field": "lo", "type": "quantitative"}, "y2": {"field": "hi"}}},
   {"transform": [{"filter": "isValid(datum.q1)"}], "mark": {"type": "bar", "width": {"band": 0.6}, "stroke": "#333", "strokeWidth": 0.8}, "encoding": {"x": {"field": "g", "type": "nominal"}, "y": {"field": "q1", "type": "quantitative"}, "y2": {"field": "q3"}, "color": {"field": "g", "type": "nominal", "scale": {"domain": ["HS1","HS2","HS3","HS4"], "range": ["#4DB6D3","#F3B23C","#A5CA5C","#E8533F"]}, "legend": null}}},
   {"transform": [{"filter": "isValid(datum.q1)"}], "mark": {"type": "bar", "width": {"band": 0.6}, "stroke": "#222", "strokeWidth": 1, "fillOpacity": 0}, "encoding": {"x": {"field": "g", "type": "nominal"}, "y": {"field": "md", "type": "quantitative"}, "y2": {"field": "md"}}},
   {"transform": [{"filter": "isArray(datum.o)"}, {"flatten": ["o"]}], "mark": {"type": "circle", "size": 4, "color": "#111", "opacity": 1}, "encoding": {"x": {"field": "g", "type": "nominal"}, "y": {"field": "o", "type": "quantitative"}}},
   {"transform": [{"filter": "isArray(datum.by)"}, {"flatten": ["by", "bl", "ba", "bb"]}],
    "layer": [
     {"mark": {"type": "rule", "color": "#333", "strokeWidth": 0.6}, "encoding": {"x": {"field": "ba", "type": "nominal"}, "x2": {"field": "bb"}, "y": {"field": "by", "type": "quantitative"}}},
     {"transform": [{"filter": "substring(datum.bb,2) - substring(datum.ba,2) == 1"}], "mark": {"type": "text", "fontSize": 5.5, "dy": -1.5, "baseline": "alphabetic", "color": "#222"}, "encoding": {"x": {"field": "ba", "type": "nominal", "bandPosition": 1}, "y": {"field": "by", "type": "quantitative"}, "text": {"field": "bl"}}},
     {"transform": [{"filter": "substring(datum.bb,2) - substring(datum.ba,2) == 2"}], "mark": {"type": "text", "fontSize": 5.5, "dy": -1.5, "baseline": "alphabetic", "color": "#222"}, "encoding": {"x": {"field": "ba", "type": "nominal", "bandPosition": 1.5}, "y": {"field": "by", "type": "quantitative"}, "text": {"field": "bl"}}},
     {"transform": [{"filter": "substring(datum.bb,2) - substring(datum.ba,2) == 3"}], "mark": {"type": "text", "fontSize": 5.5, "dy": -1.5, "baseline": "alphabetic", "color": "#222"}, "encoding": {"x": {"field": "ba", "type": "nominal", "bandPosition": 2}, "y": {"field": "by", "type": "quantitative"}, "text": {"field": "bl"}}}
    ]},
   {"transform": [{"filter": "isValid(datum.kw)"}], "mark": {"type": "text", "fontSize": 5.7, "baseline": "bottom", "dy": -2, "color": "#222"}, "encoding": {"x": {"datum": "HS2", "type": "nominal", "bandPosition": 1}, "y": {"field": "y1", "type": "quantitative"}, "text": {"field": "kw"}}}
  ]}}
]},
{"spacing": 15, "vconcat": [
 {"spacing": 10, "hconcat": [
  {"width": 44, "height": 419, "data": {"values": [{"s": "B", "t": "P53 / Cell cycle pathway"}]},
   "layer": [
    {"mark": {"type": "rule", "color": "#222", "strokeWidth": 1.4}, "encoding": {"x": {"datum": 1, "type": "quantitative", "scale": {"domain": [0, 1]}, "axis": null}, "y": {"datum": 0.01, "type": "quantitative", "scale": {"domain": [0, 1]}, "axis": null}, "y2": {"datum": 0.976}}},
    {"mark": {"type": "text", "angle": 270, "fontSize": 12, "color": "#333"}, "encoding": {"x": {"datum": 0.73, "type": "quantitative"}, "y": {"datum": 0.51, "type": "quantitative"}, "text": {"field": "t"}}},
    {"mark": {"type": "text", "fontSize": 21, "fontWeight": "bold", "align": "left", "baseline": "top", "color": "#000"}, "encoding": {"x": {"datum": 0.09, "type": "quantitative"}, "y": {"datum": 1, "type": "quantitative"}, "text": {"field": "s"}}}
   ]},
  {"transform": [{"filter": {"field": "v", "oneOf": ["ATM","CHK1","CHK1_pS296","CHK1_pS345","CHK2","CHK2_pT68","P53","P16INK4A","P21","CYCLINB1","CYCLIND1","CYCLINE1","CYCLINE2","CDK1","CDK1_pY15"]}}],
   "facet": {"field": "v", "type": "nominal", "sort": ["ATM","CHK1","CHK1_pS296","CHK1_pS345","CHK2","CHK2_pT68","P53","P16INK4A","P21","CYCLINB1","CYCLIND1","CYCLINE1","CYCLINE2","CDK1","CDK1_pY15"],
    "header": {"title": null, "labelOrient": "left", "labelAngle": 270, "labelFontSize": 6, "labelPadding": 2, "labelColor": "#222", "labelAnchor": "middle"}},
   "columns": 6, "bounds": "flush", "spacing": {"row": 20, "column": 26.8},
   "resolve": {"scale": {"y": "independent"}, "axis": {"x": "independent"}},
   "spec": {"width": 79, "height": 119, "layer": [
    {"transform": [{"filter": "isValid(datum.y0)"}], "mark": {"type": "rule", "opacity": 0}, "encoding": {"y": {"field": "y0", "type": "quantitative", "scale": {"nice": false, "zero": false}, "axis": {"title": null, "tickCount": 4}}, "y2": {"field": "y1"}}},
    {"transform": [{"filter": "isValid(datum.q1)"}], "mark": {"type": "rule", "color": "#333", "strokeWidth": 0.9}, "encoding": {"x": {"field": "g", "type": "nominal", "scale": {"domain": ["HS1","HS2","HS3","HS4"], "paddingInner": 0, "paddingOuter": 0.34}, "axis": {"title": null}}, "y": {"field": "lo", "type": "quantitative"}, "y2": {"field": "hi"}}},
    {"transform": [{"filter": "isValid(datum.q1)"}], "mark": {"type": "bar", "width": {"band": 0.6}, "stroke": "#333", "strokeWidth": 0.8}, "encoding": {"x": {"field": "g", "type": "nominal"}, "y": {"field": "q1", "type": "quantitative"}, "y2": {"field": "q3"}, "color": {"field": "g", "type": "nominal", "scale": {"domain": ["HS1","HS2","HS3","HS4"], "range": ["#4DB6D3","#F3B23C","#A5CA5C","#E8533F"]}, "legend": null}}},
    {"transform": [{"filter": "isValid(datum.q1)"}], "mark": {"type": "bar", "width": {"band": 0.6}, "stroke": "#222", "strokeWidth": 1, "fillOpacity": 0}, "encoding": {"x": {"field": "g", "type": "nominal"}, "y": {"field": "md", "type": "quantitative"}, "y2": {"field": "md"}}},
    {"transform": [{"filter": "isArray(datum.o)"}, {"flatten": ["o"]}], "mark": {"type": "circle", "size": 4, "color": "#111", "opacity": 1}, "encoding": {"x": {"field": "g", "type": "nominal"}, "y": {"field": "o", "type": "quantitative"}}},
    {"transform": [{"filter": "isArray(datum.by)"}, {"flatten": ["by", "bl", "ba", "bb"]}],
     "layer": [
      {"mark": {"type": "rule", "color": "#333", "strokeWidth": 0.6}, "encoding": {"x": {"field": "ba", "type": "nominal"}, "x2": {"field": "bb"}, "y": {"field": "by", "type": "quantitative"}}},
      {"transform": [{"filter": "substring(datum.bb,2) - substring(datum.ba,2) == 1"}], "mark": {"type": "text", "fontSize": 5.5, "dy": -1.5, "baseline": "alphabetic", "color": "#222"}, "encoding": {"x": {"field": "ba", "type": "nominal", "bandPosition": 1}, "y": {"field": "by", "type": "quantitative"}, "text": {"field": "bl"}}},
      {"transform": [{"filter": "substring(datum.bb,2) - substring(datum.ba,2) == 2"}], "mark": {"type": "text", "fontSize": 5.5, "dy": -1.5, "baseline": "alphabetic", "color": "#222"}, "encoding": {"x": {"field": "ba", "type": "nominal", "bandPosition": 1.5}, "y": {"field": "by", "type": "quantitative"}, "text": {"field": "bl"}}},
      {"transform": [{"filter": "substring(datum.bb,2) - substring(datum.ba,2) == 3"}], "mark": {"type": "text", "fontSize": 5.5, "dy": -1.5, "baseline": "alphabetic", "color": "#222"}, "encoding": {"x": {"field": "ba", "type": "nominal", "bandPosition": 2}, "y": {"field": "by", "type": "quantitative"}, "text": {"field": "bl"}}}
     ]},
    {"transform": [{"filter": "isValid(datum.kw)"}], "mark": {"type": "text", "fontSize": 5.7, "baseline": "bottom", "dy": -2, "color": "#222"}, "encoding": {"x": {"datum": "HS2", "type": "nominal", "bandPosition": 1}, "y": {"field": "y1", "type": "quantitative"}, "text": {"field": "kw"}}}
   ]}}
 ]},
 {"spacing": 5, "hconcat": [
  {"width": 44, "height": 142, "data": {"values": [{"s": "C", "t": "TGF-β / Smad pathway"}]},
   "layer": [
    {"mark": {"type": "rule", "color": "#222", "strokeWidth": 1.4}, "encoding": {"x": {"datum": 1, "type": "quantitative", "scale": {"domain": [0, 1]}, "axis": null}, "y": {"datum": 0.035, "type": "quantitative", "scale": {"domain": [0, 1]}, "axis": null}, "y2": {"datum": 0.937}}},
    {"mark": {"type": "text", "angle": 270, "fontSize": 11.5, "color": "#333"}, "encoding": {"x": {"datum": 0.73, "type": "quantitative"}, "y": {"datum": 0.58, "type": "quantitative"}, "text": {"field": "t"}}},
    {"mark": {"type": "text", "fontSize": 21, "fontWeight": "bold", "align": "left", "baseline": "top", "color": "#000", "dy": -7}, "encoding": {"x": {"datum": 0.15, "type": "quantitative"}, "y": {"datum": 1, "type": "quantitative"}, "text": {"field": "s"}}}
   ]},
  {"transform": [{"filter": {"field": "v", "oneOf": ["SMAD3","SMAD4","SNAIL","CMYC"]}}],
   "facet": {"field": "v", "type": "nominal", "sort": ["SMAD3","SMAD4","SNAIL","CMYC"],
    "header": {"title": null, "labelOrient": "left", "labelAngle": 270, "labelFontSize": 6, "labelPadding": 2, "labelColor": "#222", "labelAnchor": "middle"}},
   "columns": 4, "bounds": "flush", "spacing": {"row": 20, "column": 26.8},
   "resolve": {"scale": {"y": "independent"}, "axis": {"x": "independent"}},
   "spec": {"width": 79, "height": 120, "layer": [
    {"transform": [{"filter": "isValid(datum.y0)"}], "mark": {"type": "rule", "opacity": 0}, "encoding": {"y": {"field": "y0", "type": "quantitative", "scale": {"nice": false, "zero": false}, "axis": {"title": null, "tickCount": 4}}, "y2": {"field": "y1"}}},
    {"transform": [{"filter": "isValid(datum.q1)"}], "mark": {"type": "rule", "color": "#333", "strokeWidth": 0.9}, "encoding": {"x": {"field": "g", "type": "nominal", "scale": {"domain": ["HS1","HS2","HS3","HS4"], "paddingInner": 0, "paddingOuter": 0.34}, "axis": {"title": null}}, "y": {"field": "lo", "type": "quantitative"}, "y2": {"field": "hi"}}},
    {"transform": [{"filter": "isValid(datum.q1)"}], "mark": {"type": "bar", "width": {"band": 0.6}, "stroke": "#333", "strokeWidth": 0.8}, "encoding": {"x": {"field": "g", "type": "nominal"}, "y": {"field": "q1", "type": "quantitative"}, "y2": {"field": "q3"}, "color": {"field": "g", "type": "nominal", "scale": {"domain": ["HS1","HS2","HS3","HS4"], "range": ["#4DB6D3","#F3B23C","#A5CA5C","#E8533F"]}, "legend": null}}},
    {"transform": [{"filter": "isValid(datum.q1)"}], "mark": {"type": "bar", "width": {"band": 0.6}, "stroke": "#222", "strokeWidth": 1, "fillOpacity": 0}, "encoding": {"x": {"field": "g", "type": "nominal"}, "y": {"field": "md", "type": "quantitative"}, "y2": {"field": "md"}}},
    {"transform": [{"filter": "isArray(datum.o)"}, {"flatten": ["o"]}], "mark": {"type": "circle", "size": 4, "color": "#111", "opacity": 1}, "encoding": {"x": {"field": "g", "type": "nominal"}, "y": {"field": "o", "type": "quantitative"}}},
    {"transform": [{"filter": "isArray(datum.by)"}, {"flatten": ["by", "bl", "ba", "bb"]}],
     "layer": [
      {"mark": {"type": "rule", "color": "#333", "strokeWidth": 0.6}, "encoding": {"x": {"field": "ba", "type": "nominal"}, "x2": {"field": "bb"}, "y": {"field": "by", "type": "quantitative"}}},
      {"transform": [{"filter": "substring(datum.bb,2) - substring(datum.ba,2) == 1"}], "mark": {"type": "text", "fontSize": 5.5, "dy": -1.5, "baseline": "alphabetic", "color": "#222"}, "encoding": {"x": {"field": "ba", "type": "nominal", "bandPosition": 1}, "y": {"field": "by", "type": "quantitative"}, "text": {"field": "bl"}}},
      {"transform": [{"filter": "substring(datum.bb,2) - substring(datum.ba,2) == 2"}], "mark": {"type": "text", "fontSize": 5.5, "dy": -1.5, "baseline": "alphabetic", "color": "#222"}, "encoding": {"x": {"field": "ba", "type": "nominal", "bandPosition": 1.5}, "y": {"field": "by", "type": "quantitative"}, "text": {"field": "bl"}}},
      {"transform": [{"filter": "substring(datum.bb,2) - substring(datum.ba,2) == 3"}], "mark": {"type": "text", "fontSize": 5.5, "dy": -1.5, "baseline": "alphabetic", "color": "#222"}, "encoding": {"x": {"field": "ba", "type": "nominal", "bandPosition": 2}, "y": {"field": "by", "type": "quantitative"}, "text": {"field": "bl"}}}
     ]},
    {"transform": [{"filter": "isValid(datum.kw)"}], "mark": {"type": "text", "fontSize": 5.7, "baseline": "bottom", "dy": -2, "color": "#222"}, "encoding": {"x": {"datum": "HS2", "type": "nominal", "bandPosition": 1}, "y": {"field": "y1", "type": "quantitative"}, "text": {"field": "kw"}}}
   ]}}
 ]}
]}
],
"config": {
 "font": "Liberation Sans",
 "view": {"stroke": null},
 "axis": {"grid": false, "domainColor": "#111", "domainWidth": 1.1, "tickColor": "#333", "tickSize": 2.5, "tickWidth": 0.8, "labelFontSize": 6.5, "labelColor": "#444", "labelPadding": 1},
 "axisX": {"labelAngle": 0, "labelFontSize": 7.2, "labelColor": "#222"}
}
}
